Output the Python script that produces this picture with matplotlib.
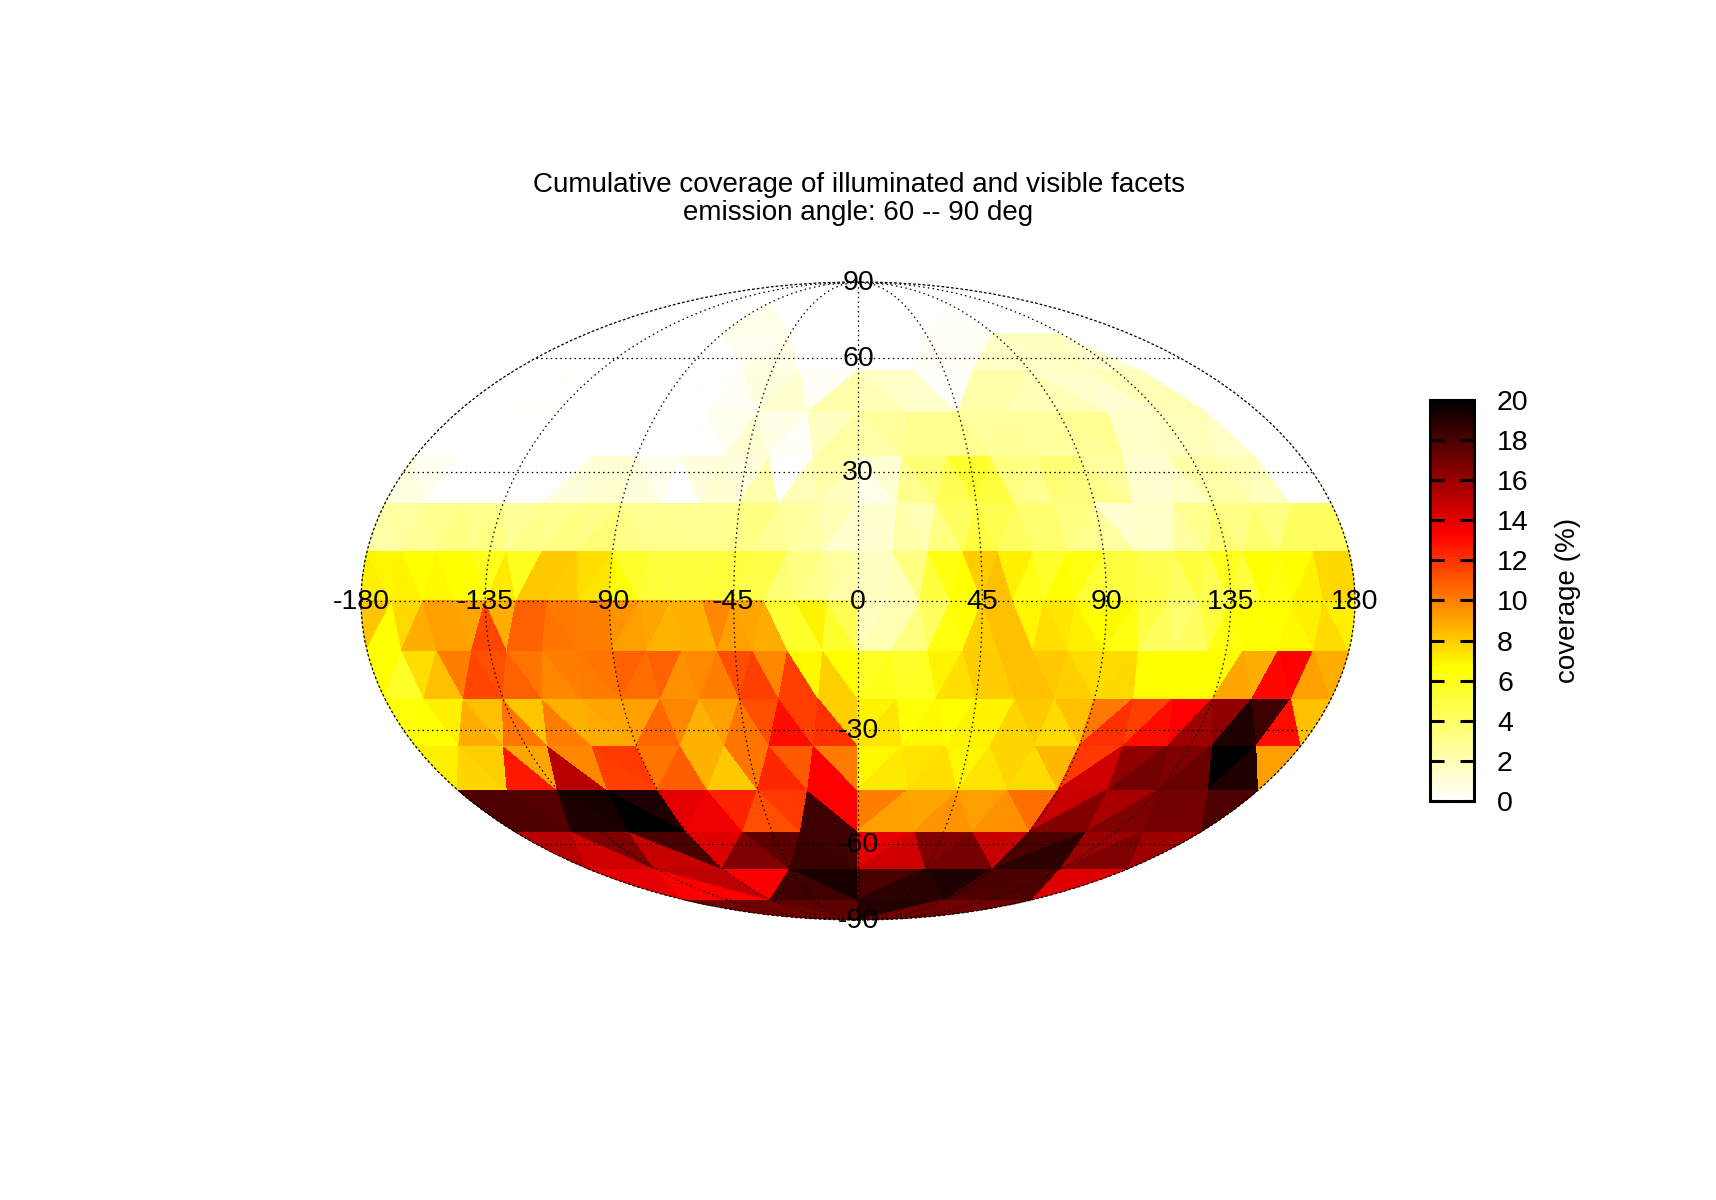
import numpy as np
import matplotlib
matplotlib.use('Agg')
import matplotlib.pyplot as plt
from matplotlib.colors import LinearSegmentedColormap
from matplotlib.ticker import NullFormatter
from matplotlib.tri import Triangulation

plt.rcParams['font.family'] = ['Liberation Sans', 'DejaVu Sans']

# facet values (%), one list per latitude band, west to east.
# north_k / south_k : band k counted from the pole, 11.25 deg each
north_1 = [0, 0, 0, 0]
north_2 = [0, 0.1, 0, 0.6, 0, 0, 0, 0, 0.2, 0, 0, 0]
north_3 = [0.1, 0.1, 0, 0, 0, 0.05, 0.4, 0.7, 0, 0.1,
           0.1, 0.1, 0.3, 0.3, 1.5, 1.5, 1.7, 1.3, 0.1, 0]
north_4 = [0, 0.1, 0.1, 0, 0, 0, 0, 0, 0.1, 0.3, 0.9, 1.3, 0.3, 2.2,
           1.9, 1.5, 1.4, 0.2, 2.2, 2.2, 1.9, 1.9, 1.4, 1.2, 1.8, 2.0, 0, 0]
north_5 = [0, 0, 0, 0, 0, 0, 0, 0, 0, 0, 0, 0.1, 0.5, 1.2, 0.7, 0.2, 1.6, 2.4,
           2.3, 2.6, 3.0, 3.0, 3.0, 2.6, 2.7, 2.6, 2.6, 2.7, 2.9, 1.5, 1.5, 1.7, 1.8, 1.5, 0, 0]
north_6 = [0.8, 0.4, 0, 0, 0, 0, 0, 0, 0.9, 1.1, 1.3, 0.9, 0.6, 0, 0.9, 1.2, 0.9, 2.2, 0, 1.8, 2.3, 1.7,
           0.6, 1.2, 3.0, 3.6, 4.5, 5.5, 5.0, 3.3, 3.0, 3.6, 3.4, 3.0, 2.5, 1.3, 1.2, 1.5, 2.3, 2.3, 2.0, 1.7, 0, 0.1]
north_7 = [2.3, 2.5, 2.8, 3.0, 3.3, 3.0, 3.3, 2.7, 3.1, 3.0, 3.3, 3.2, 3.6,
           3.2, 2.9, 3.0, 2.9, 2.9, 2.9, 3.0, 3.3, 2.8, 2.6, 2.4, 2.0, 1.3,
           1.2, 1.3, 2.3, 2.0, 3.3, 4.2, 5.0, 4.6, 4.2, 3.8, 3.8, 3.3, 3.0,
           2.5, 1.3, 1.5, 1.5, 2.5, 3.0, 3.6, 3.2, 3.8, 3.3, 4.2, 4.2, 4.2]
north_8 = [7.1, 6.9, 7.0, 6.7, 6.8, 6.7, 6.7, 6.0, 7.2, 5.9, 8.1, 8.1, 8.0, 7.5, 7.4,
           6.7, 5.5, 5.2, 5.0, 5.0, 5.0, 5.2, 5.0, 4.8, 4.8, 3.6, 3.3, 3.0, 2.6, 2.3,
           1.7, 1.6, 1.8, 3.3, 5.0, 6.3, 6.7, 8.0, 8.3, 7.1, 6.2, 5.6, 6.7, 6.3, 5.3,
           5.0, 5.0, 4.8, 4.6, 4.2, 5.0, 4.6, 5.8, 5.0, 6.7, 6.3, 6.7, 7.1, 7.7, 7.7]
south_8 = [8.2, 6.7, 7.7, 8.8, 9.2, 9.2, 9.0, 11.5, 8.8, 10.8, 10.8, 10.3, 10.2, 10.0, 10.0,
           9.5, 9.2, 9.0, 8.6, 8.7, 8.7, 9.8, 9.2, 9.0, 8.9, 5.4, 5.6, 7.0, 5.5, 4.5,
           1.7, 2.0, 2.0, 3.3, 4.2, 6.3, 6.7, 7.9, 8.3, 8.3, 6.9, 7.5, 7.3, 7.1, 6.7,
           6.8, 6.3, 5.0, 4.2, 3.8, 4.2, 5.0, 6.3, 6.7, 6.6, 6.7, 6.8, 7.1, 7.6, 7.1]
south_7 = [6.7, 5.7, 7.5, 8.3, 10.0, 11.5, 11.3, 10.8, 10.3, 9.8, 10.0, 10.1, 10.3,
           10.8, 10.5, 10.8, 9.6, 9.7, 10.0, 11.3, 11.7, 9.8, 11.7, 6.8, 7.9, 6.7,
           5.8, 6.0, 5.6, 5.8, 7.0, 7.5, 8.0, 8.0, 8.3, 8.3, 8.1, 7.9, 7.6,
           7.6, 7.7, 6.7, 6.7, 6.7, 6.7, 6.7, 9.0, 8.8, 13.2, 13.3, 9.2, 8.8]
south_6 = [6.5, 6.6, 7.1, 8.8, 8.3, 10.3, 8.2, 10.0, 8.7, 8.9, 9.0,
           9.2, 10.7, 9.8, 8.7, 9.2, 10.3, 11.3, 13.0, 11.7, 12.1, 7.9,
           7.0, 7.4, 6.5, 6.8, 6.7, 7.0, 7.0, 7.8, 8.1, 7.6, 8.3,
           10.2, 12.1, 11.7, 13.0, 13.3, 15.8, 16.2, 19.2, 18.3, 13.0, 8.3]
south_5 = [7.1, 7.8, 7.9, 12.7, 9.0, 15.2, 9.8, 11.7, 11.8,
           10.3, 10.9, 8.7, 8.1, 10.3, 12.3, 11.0, 13.3, 10.1,
           6.8, 7.2, 7.4, 7.5, 6.9, 7.4, 7.8, 7.6, 8.5,
           11.8, 14.6, 16.2, 17.0, 16.7, 17.2, 20.0, 19.2, 9.2]
south_4 = [17.9, 17.9, 17.8, 19.2, 19.3, 20.0, 19.2,
           14.0, 13.7, 12.4, 11.3, 11.8, 18.3, 13.3,
           10.0, 9.2, 9.0, 9.5, 9.2, 9.6, 10.4,
           14.7, 16.6, 15.6, 16.7, 17.0, 16.9, 17.9]
south_3 = [15.2, 14.6, 16.7, 14.8, 18.0,
           14.2, 16.7, 17.5, 18.5, 18.3,
           14.0, 14.6, 16.6, 16.9, 14.7,
           18.0, 18.8, 16.0, 16.7, 15.8]
south_2 = [14.0, 13.4, 15.0, 13.4, 18.3, 19.3, 18.0, 18.9, 19.2, 18.0, 17.9, 14.2]
south_1 = [17.0, 17.5, 19.0, 17.0]

north_bands = [north_1, north_2, north_3, north_4, north_5, north_6, north_7, north_8]
south_bands = [south_1, south_2, south_3, south_4, south_5, south_6, south_7, south_8]

lon_ticks = [-180, -135, -90, -45, 0, 45, 90, 135, 180]
lat_ticks = [90, 60, 30, -30, -60, -90]
bar_ticks = list(range(0, 21, 2))
palette = ['white', 'yellow', 'red', 'black']
W, H = 1716, 1200


def node(k, j, q, sign):
    # node j of ring k, in degrees; the pole has one node per quadrant
    if k == 0:
        return [-180, -45, 45, 180][q], sign * 90.0
    return -180 + 90.0 * j / k, sign * (90 - 11.25 * k)


def band_facets(k, values, sign):
    facets = []
    for q in range(4):
        for i in range(2 * k - 1):
            m = i // 2
            if i % 2 == 0:
                f = [node(k, q * k + m, q, sign), node(k, q * k + m + 1, q, sign),
                     node(k - 1, q * (k - 1) + m, q, sign)]
            else:
                f = [node(k - 1, q * (k - 1) + m, q, sign), node(k - 1, q * (k - 1) + m + 1, q, sign),
                     node(k, q * k + m + 1, q, sign)]
            facets.append(f)
    return facets, list(values)


def rim_fan(facet):
    # thin triangles between a facet edge lying on lon=+-180 and the curved rim
    rim = [p for p in facet if abs(p[0]) == 180]
    if len(rim) < 2 or rim[0][0] != rim[1][0]:
        return []
    lon = rim[0][0]
    lats = np.linspace(rim[0][1], rim[1][1], 9)
    return [[rim[0], (lon, lats[i]), (lon, lats[i + 1])] for i in range(1, 8)]


corners = []
vals = []
for k in range(1, 9):
    for bands, sign in ((north_bands, 1), (south_bands, -1)):
        facets, values = band_facets(k, bands[k - 1], sign)
        for f, v in zip(facets, values):
            corners.append(f)
            vals.append(v)
            for sliver in rim_fan(f):
                corners.append(sliver)
                vals.append(v)
corners = np.radians(np.array(corners))
vals = np.array(vals, dtype=float)
cmap = LinearSegmentedColormap.from_list('cov', palette, N=256)

fig = plt.figure(figsize=(W / 100, H / 100), dpi=100)
ax = fig.add_axes([361 / W, 1 - 920 / H, 994 / W, 638 / H], projection='mollweide')
ax.set_aspect('auto')

# project the corners first: facet edges stay straight on the map
xy = ax.transProjection.transform(corners.reshape(-1, 2))
tri = Triangulation(xy[:, 0], xy[:, 1], np.arange(len(xy)).reshape(-1, 3))
mesh = ax.tripcolor(tri, facecolors=vals, cmap=cmap, vmin=0, vmax=20, edgecolors='face',
                    linewidth=0.3, antialiased=False, transform=ax.transAffine + ax.transAxes)

ax.set_longitude_grid(45)
ax.set_latitude_grid(30)
ax.set_longitude_grid_ends(90)
ax.xaxis.set_major_formatter(NullFormatter())
ax.yaxis.set_major_formatter(NullFormatter())
ax.grid(True, color='black', linestyle=(0, (1.2, 2.6)), linewidth=0.9)
ax.spines['geo'].set_linestyle((0, (1.2, 2.6)))
ax.spines['geo'].set_linewidth(0.9)

for lon in lon_ticks:
    ax.annotate(str(lon), (np.radians(lon), 0), xytext=(0, 1.3), textcoords='offset points',
                ha='center', va='center_baseline', fontsize=20.5)
for lat in lat_ticks:
    ax.annotate(str(lat), (0, np.radians(lat)), xytext=(0, 1.3), textcoords='offset points',
                ha='center', va='center_baseline', fontsize=20.5, annotation_clip=False)

fig.text(859 / W, 1 - 185 / H, 'Cumulative coverage of illuminated and visible facets',
         ha='center', va='center', fontsize=20)
fig.text(858 / W, 1 - 213 / H, 'emission angle: 60 -- 90 deg', ha='center', va='center', fontsize=20)

cax = fig.add_axes([1429.5 / W, 1 - 801 / H, 44 / W, 401 / H])
cb = fig.colorbar(mesh, cax=cax, ticks=bar_ticks)
cb.outline.set_linewidth(2.2)
cax.tick_params(axis='y', direction='in', left=True, right=True, length=10, width=2.2,
                labelsize=20.5, pad=17)
fig.text(1568 / W, 1 - 600 / H, 'coverage (%)', rotation=90, ha='center', va='center', fontsize=20)

fig.savefig('out.png', dpi=100)
